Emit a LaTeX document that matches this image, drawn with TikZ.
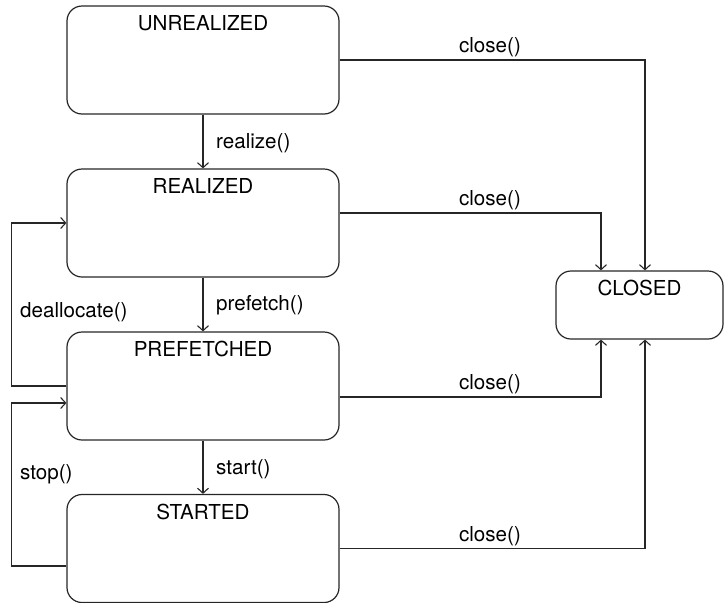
\documentclass[tikz,border=0pt]{standalone}
\usepackage{fontspec}
\setmainfont{TeX Gyre Heros}
\usetikzlibrary{arrows.meta}
\begin{document}
\begin{tikzpicture}[x=1pt,y=-1pt,
  every node/.style={font=\fontsize{20.6}{24}\selectfont, text=black},
  state/.style={draw=black!85, line width=1.2pt, rounded corners=15pt,
    minimum width=272pt, minimum height=108pt, inner sep=0pt},
  closedbox/.style={draw=black!85, line width=1.2pt, rounded corners=15pt,
    minimum width=167pt, minimum height=68pt, inner sep=0pt},
  title/.style={anchor=base, inner sep=0pt, label distance=0pt, yshift=-25.5pt},
  lab/.style={inner sep=0pt},
  arr/.style={draw=black!85, line width=1.2pt,
    -{Straight Barb[length=5pt,width=11pt,line width=1.1pt]}}
]
\useasboundingbox (0,0) rectangle (724,603);

% states
\node[state, label={[title, name=ut]north:UNREALIZED}] (u) at (203,60) {};
\node[state, label={[title, name=rt]north:REALIZED}]   (r) at (203,223) {};
\node[state, label={[title, name=pt]north:PREFETCHED}] (p) at (203,386) {};
\node[state, label={[title, name=st]north:STARTED}]    (s) at (203,548.5) {};
\node[closedbox, label={[title, name=ct]north:CLOSED}] (c) at (639.5,305) {};

% forward transitions
\draw[arr] (u) -- (r);
\draw[arr] (r) -- (p);
\draw[arr] (p) -- (s);
\node[lab, anchor=base west] (lrealize)  at (216,148) {realize()};
\node[lab, anchor=base west] (lprefetch) at (216,310) {prefetch()};
\node[lab, anchor=base west] (lstart)    at (216,474) {start()};

% close() from every state
\draw[arr] (u.east) -| ([xshift=5.5pt]c.north);
\draw[arr] ([yshift=10pt]r.east) -| ([xshift=-38.5pt]c.north);
\draw[arr] ([yshift=-11pt]p.east) -| ([xshift=-38.5pt]c.south);
\draw[arr] (s.east) -| ([xshift=5.5pt]c.south);
\node[lab, anchor=base] (lcu) at (490,52)  {close()};
\node[lab, anchor=base] (lcr) at (490,205) {close()};
\node[lab, anchor=base] (lcp) at (490,389) {close()};
\node[lab, anchor=base] (lcs) at (490,541) {close()};

% backward transitions
\draw[arr] (p.west) -- ++(-55,0) |- (r.west);
\draw[arr] ([yshift=-17.5pt]s.west) -- ++(-55,0) |- ([yshift=-17pt]p.west);
\node[lab, anchor=base west] (ldealloc) at (20,317) {deallocate()};
\node[lab, anchor=base west] (lstop)    at (20,479) {stop()};
\end{tikzpicture}
\end{document}
